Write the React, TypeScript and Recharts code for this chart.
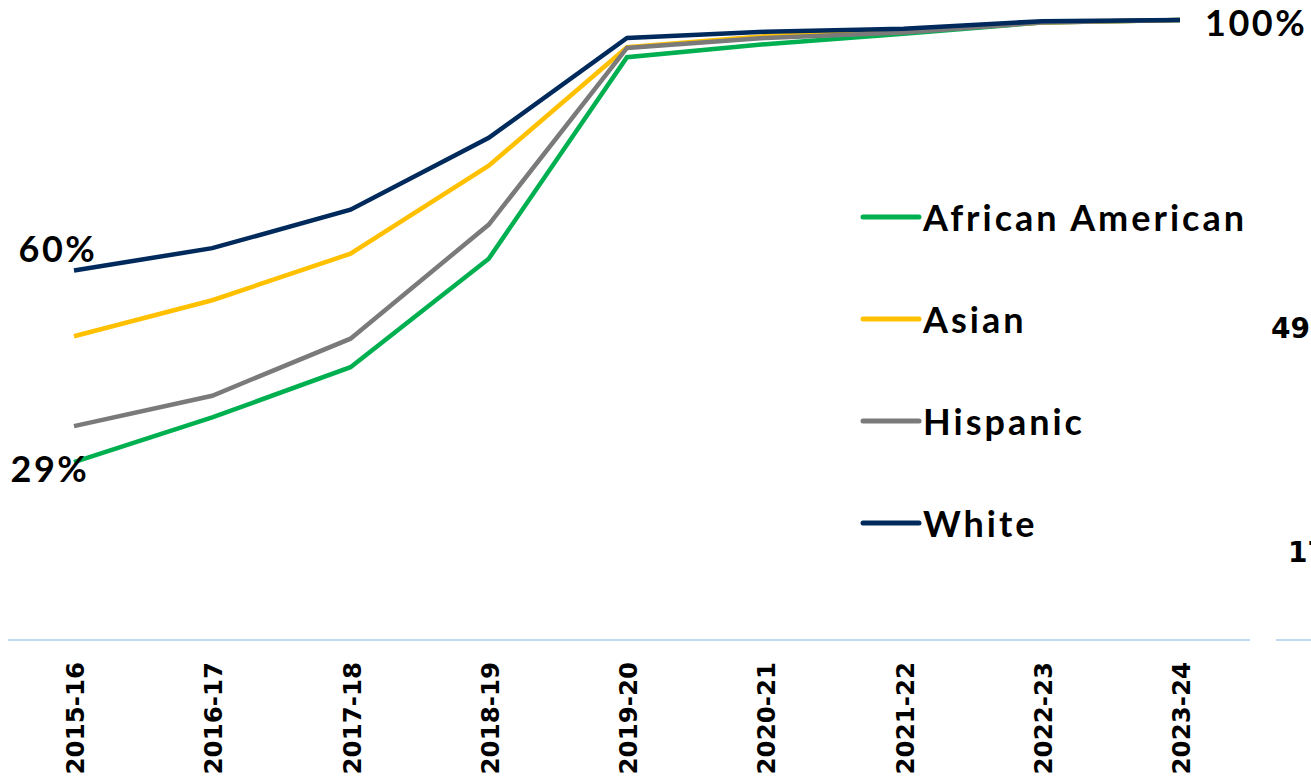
import React from 'react';
import { LineChart, Line, XAxis, YAxis, Legend } from 'recharts';

const categories = ['2015-16', '2016-17', '2017-18', '2018-19', '2019-20', '2020-21', '2021-22', '2022-23', '2023-24'];
const africanAmerican = [28.7, 35.9, 44, 61.5, 94, 96.1, 97.8, 99.6, 100];
const asian = [49, 54.8, 62.3, 76.5, 95.6, 97.4, 98.2, 99.6, 100];
const hispanic = [34.5, 39.4, 48.6, 67, 95.5, 97.1, 98, 99.6, 100];
const white = [59.6, 63.2, 69.4, 81, 97.1, 98.1, 98.6, 99.8, 100];

const seriesKeys = ['aa', 'asian', 'hispanic', 'white'];
const seriesNames = ['African American', 'Asian', 'Hispanic', 'White'];
const seriesColors = ['#00B050', '#FFC000', '#7A7A7A', '#002A5C'];
const seriesValues = [africanAmerican, asian, hispanic, white];

// clipped labels of the neighbouring chart at the right edge
const neighbourLabels = ['49', '17'];

const data = categories.map((year, i) => {
  const row: any = { year };
  seriesKeys.forEach((k, s) => {
    row[k] = seriesValues[s][i];
  });
  return row;
});

const labelStyle = {
  fontFamily: 'Lato, sans-serif',
  fontWeight: 700,
  fontSize: 36,
  letterSpacing: 2.5,
  fill: '#000',
};

type LabelPos = { dx: number; dy: number; anchor: 'start' | 'middle' | 'end' };

const makeLabel = (positions: Record<number, LabelPos>) => (props: any) => {
  const { x, y, index, value } = props;
  const p = positions[index];
  if (!p) return <g key={`n-${index}`} />;
  return (
    <text
      key={`l-${index}`}
      x={x + p.dx}
      y={y + p.dy}
      textAnchor={p.anchor}
      style={labelStyle as any}
    >
      {`${Math.round(value)}%`}
    </text>
  );
};

const labelPositions: Record<string, Record<number, LabelPos>> = {
  aa: { 0: { dx: -24, dy: 20, anchor: 'middle' } },
  asian: {},
  hispanic: {},
  white: {
    0: { dx: -16, dy: -8, anchor: 'middle' },
    8: { dx: 25, dy: 16, anchor: 'start' },
  },
};

const Tick = (props: any) => {
  const { x, payload } = props;
  const bx = x + 10;
  const by = 662;
  return (
    <text
      x={bx}
      y={by}
      transform={`rotate(-90, ${bx}, ${by})`}
      textAnchor="end"
      fontFamily="'DejaVu Sans', Verdana, sans-serif"
      fontWeight={700}
      fontSize={24.5}
      fill="#000"
    >
      {payload.value}
    </text>
  );
};

const renderLegend = (props: any) => {
  const payload = props.payload || [];
  return (
    <div style={{ display: 'flex', flexDirection: 'column' }}>
      {payload.map((entry: any, i: number) => (
        <div key={i} style={{ height: 102, display: 'flex', alignItems: 'center' }}>
          <svg width={62} height={10} style={{ display: 'block' }}>
            <line x1={3} y1={5} x2={59} y2={5} stroke={entry.color} strokeWidth={5} strokeLinecap="round" />
          </svg>
          <span
            style={{
              fontFamily: 'Lato, sans-serif',
              fontWeight: 700,
              fontSize: 36,
              letterSpacing: 3,
              color: '#000',
              marginLeft: 1,
              whiteSpace: 'nowrap',
              lineHeight: '40px',
            }}
          >
            {entry.value}
          </span>
        </div>
      ))}
    </div>
  );
};

export default function App() {
  return (
    <div
      style={{
        position: 'fixed',
        left: 0,
        top: 0,
        width: 1311,
        height: 778,
        overflow: 'hidden',
        background: '#fff',
      }}
    >
      <LineChart
        width={1311}
        height={778}
        data={data}
        margin={{ top: 20, right: 61, bottom: 108, left: 8 }}
      >
        <XAxis
          dataKey="year"
          height={30}
          padding={{ left: 66, right: 70 }}
          axisLine={{ stroke: '#BFD9F2', strokeWidth: 2 }}
          tickLine={false}
          tick={<Tick />}
          interval={0}
        />
        <YAxis hide domain={[0, 100]} />
        <Legend
          layout="vertical"
          align="center"
          verticalAlign="middle"
          wrapperStyle={{ position: 'absolute', left: 860, top: 166, width: 440 }}
          content={renderLegend}
        />
        {seriesKeys.map((k, s) => (
          <Line
            key={k}
            dataKey={k}
            name={seriesNames[s]}
            stroke={seriesColors[s]}
            strokeWidth={4.5}
            dot={false}
            activeDot={false}
            isAnimationActive={false}
            label={makeLabel(labelPositions[k])}
          />
        ))}
      </LineChart>
      <svg
        width={1311}
        height={778}
        style={{ position: 'absolute', left: 0, top: 0, pointerEvents: 'none' }}
      >
        <line x1={1276} y1={640} x2={1311} y2={640} stroke="#BFD9F2" strokeWidth={2} />
        <text x={1271} y={338} fontFamily="'DejaVu Sans', sans-serif" fontWeight={700} fontSize={28} fill="#000">
          {neighbourLabels[0]}
        </text>
        <text x={1288} y={562} fontFamily="'DejaVu Sans', sans-serif" fontWeight={700} fontSize={28} fill="#000">
          {neighbourLabels[1]}
        </text>
      </svg>
    </div>
  );
}
